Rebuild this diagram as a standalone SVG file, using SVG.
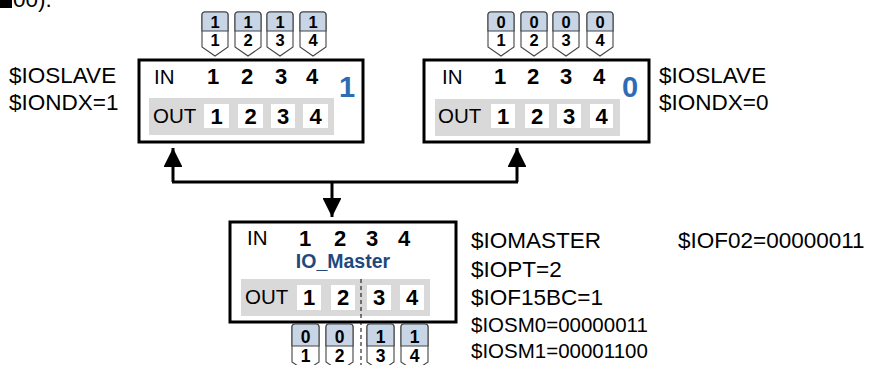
<svg xmlns="http://www.w3.org/2000/svg" width="877" height="365" viewBox="0 0 877 365">
<style>
text{font-family:"Liberation Sans",Arial,sans-serif;fill:#000}
.lbl{font-size:22.5px}
.sm{font-size:20.5px}
.in{font-size:20.5px}
.b{font-size:22px;font-weight:bold;text-anchor:middle}
.big{font-size:29px;font-weight:bold;text-anchor:middle;fill:#2E6BB5}
.tg{font-size:16.5px;font-weight:bold;text-anchor:middle}
.tgb{font-size:17.5px;font-weight:bold;text-anchor:middle}
.box{fill:#fff;stroke:#000;stroke-width:3}
.gray{fill:#D9D9D9}
.wb{fill:#fff}
.tagw{fill:#fff;stroke:#444;stroke-width:1.1}
.tagb{fill:#C8D5E6;stroke:#444;stroke-width:1.1}
.con{fill:none;stroke:#000;stroke-width:3}
</style>
<defs>
<g id="tagT">
<path class="tagw" d="M0,35 L0,3 Q0,0 3,0 L23,0 Q26,0 26,3 L26,35 L13,44 Z"/>
<path class="tagb" d="M0,19 L0,3 Q0,0 3,0 L23,0 Q26,0 26,3 L26,19 Z"/>
</g>
<g id="tagB">
<path class="tagw" d="M0,38 L0,3 Q0,0 3,0 L24,0 Q27,0 27,3 L27,38 L13.5,47 Z"/>
<path class="tagb" d="M0,22 L0,3 Q0,0 3,0 L24,0 Q27,0 27,3 L27,22 Z"/>
</g>
<marker id="ah" viewBox="0 0 10 10" refX="10" refY="5" markerWidth="6.3" markerHeight="6.3" markerUnits="strokeWidth" orient="auto">
<path d="M0,0 L10,5 L0,10 Z" fill="#000"/>
</marker>
</defs>

<g id="header">
<rect x="0" y="0" width="12" height="8" fill="#000"/>
<text class="lbl" x="13" y="7">00).</text>
</g>

<g id="connectors">
<path class="con" d="M173,182 L173,148" marker-end="url(#ah)"/>
<path class="con" d="M517,182 L517,148" marker-end="url(#ah)"/>
<path class="con" d="M172,182 L518,182"/>
<path class="con" d="M332,182 L332,217" marker-end="url(#ah)"/>
</g>

<g id="slave1">
<rect class="box" x="139" y="60" width="224" height="82"/>
<rect class="gray" x="149" y="98" width="185" height="37"/>
<rect class="wb" x="204" y="104" width="25" height="24"/>
<rect class="wb" x="238" y="104" width="25" height="24"/>
<rect class="wb" x="271" y="104" width="24" height="24"/>
<rect class="wb" x="303" y="104" width="25" height="24"/>
<text class="in" x="154" y="84">IN</text>
<text class="b" x="213" y="84">1</text>
<text class="b" x="247" y="84">2</text>
<text class="b" x="281" y="84">3</text>
<text class="b" x="312" y="84">4</text>
<text class="in" x="153" y="123">OUT</text>
<text class="b" x="216.5" y="124">1</text>
<text class="b" x="250.5" y="124">2</text>
<text class="b" x="283" y="124">3</text>
<text class="b" x="315.5" y="124">4</text>
<text class="big" x="347" y="97">1</text>
<text class="lbl" x="9" y="83">$IOSLAVE</text>
<text class="lbl" x="9" y="110">$IONDX=1</text>
</g>

<g id="slave1-tags">
<use href="#tagT" x="202" y="12"/>
<use href="#tagT" x="235" y="12"/>
<use href="#tagT" x="267" y="12"/>
<use href="#tagT" x="300" y="12"/>
<text class="tg" x="215" y="28">1</text>
<text class="tg" x="248" y="28">1</text>
<text class="tg" x="280" y="28">1</text>
<text class="tg" x="313" y="28">1</text>
<text class="tg" x="215" y="46">1</text>
<text class="tg" x="248" y="46">2</text>
<text class="tg" x="280" y="46">3</text>
<text class="tg" x="313" y="46">4</text>
</g>

<g id="slave0">
<rect class="box" x="424" y="60" width="225" height="82"/>
<rect class="gray" x="435" y="99" width="185" height="37"/>
<rect class="wb" x="491" y="104" width="24" height="24"/>
<rect class="wb" x="525" y="104" width="24" height="24"/>
<rect class="wb" x="557" y="104" width="24" height="24"/>
<rect class="wb" x="590" y="104" width="23" height="24"/>
<text class="in" x="442" y="84">IN</text>
<text class="b" x="500" y="84">1</text>
<text class="b" x="533" y="84">2</text>
<text class="b" x="566" y="84">3</text>
<text class="b" x="599" y="84">4</text>
<text class="in" x="438" y="123">OUT</text>
<text class="b" x="503" y="124">1</text>
<text class="b" x="537" y="124">2</text>
<text class="b" x="569" y="124">3</text>
<text class="b" x="601.5" y="124">4</text>
<text class="big" x="630" y="97">0</text>
<text class="lbl" x="659" y="83">$IOSLAVE</text>
<text class="lbl" x="659" y="110">$IONDX=0</text>
</g>

<g id="slave0-tags">
<use href="#tagT" x="488" y="12"/>
<use href="#tagT" x="521" y="12"/>
<use href="#tagT" x="553" y="12"/>
<use href="#tagT" x="587" y="12"/>
<text class="tg" x="501" y="28">0</text>
<text class="tg" x="534" y="28">0</text>
<text class="tg" x="566" y="28">0</text>
<text class="tg" x="600" y="28">0</text>
<text class="tg" x="501" y="46">1</text>
<text class="tg" x="534" y="46">2</text>
<text class="tg" x="566" y="46">3</text>
<text class="tg" x="600" y="46">4</text>
</g>

<g id="master">
<rect class="box" x="230" y="222" width="226" height="100"/>
<rect class="gray" x="241" y="279" width="189" height="37"/>
<rect class="wb" x="297" y="285" width="24" height="25"/>
<rect class="wb" x="331" y="285" width="24" height="25"/>
<rect class="wb" x="367" y="285" width="24" height="25"/>
<rect class="wb" x="400" y="285" width="24" height="25"/>
<text class="in" x="247" y="245">IN</text>
<text class="b" x="305" y="246">1</text>
<text class="b" x="340" y="246">2</text>
<text class="b" x="372" y="246">3</text>
<text class="b" x="404" y="246">4</text>
<text x="343" y="268" style="font-size:19.5px;font-weight:bold;text-anchor:middle;fill:#1F497D">IO_Master</text>
<text class="in" x="245" y="304">OUT</text>
<text class="b" x="309" y="305">1</text>
<text class="b" x="343" y="305">2</text>
<text class="b" x="379" y="305">3</text>
<text class="b" x="412" y="305">4</text>
<line x1="361" y1="279" x2="361" y2="365" stroke="#000" stroke-width="1" stroke-dasharray="4,3"/>
<text class="lbl" x="471" y="248">$IOMASTER</text>
<text class="lbl" x="471" y="277">$IOPT=2</text>
<text class="lbl" x="471" y="305">$IOF15BC=1</text>
<text class="sm" x="471" y="332">$IOSM0=00000011</text>
<text class="sm" x="471" y="358">$IOSM1=00001100</text>
<text class="lbl" x="678" y="248">$IOF02=00000011</text>
</g>

<g id="master-tags">
<use href="#tagB" x="292" y="324"/>
<use href="#tagB" x="326" y="324"/>
<use href="#tagB" x="367" y="324"/>
<use href="#tagB" x="401" y="324"/>
<text class="tgb" x="305.5" y="343">0</text>
<text class="tgb" x="339.5" y="343">0</text>
<text class="tgb" x="380.5" y="343">1</text>
<text class="tgb" x="414.5" y="343">1</text>
<text class="tgb" x="305.5" y="362">1</text>
<text class="tgb" x="339.5" y="362">2</text>
<text class="tgb" x="380.5" y="362">3</text>
<text class="tgb" x="414.5" y="362">4</text>
</g>
</svg>
